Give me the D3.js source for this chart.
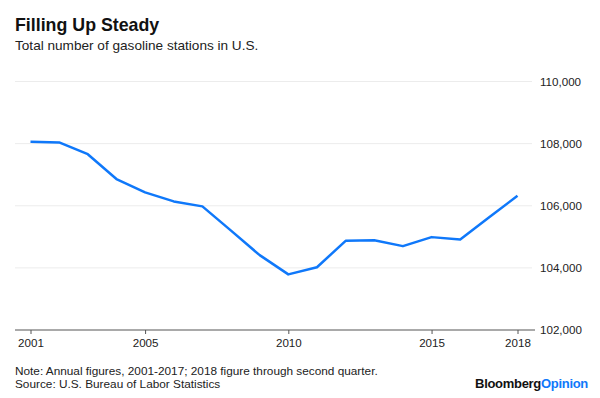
<!DOCTYPE html>
<html>
<head>
<meta charset="utf-8">
<script src="https://cdn.jsdelivr.net/npm/d3@7"></script>
<style>
  body { margin: 0; background: #fff; }
  svg { display: block; font-family: "Liberation Sans", Arial, sans-serif; }
</style>
</head>
<body>
<svg id="chart" width="600" height="398"></svg>
<script>
// data
const years = [2001, 2002, 2003, 2004, 2005, 2006, 2007, 2008, 2009, 2010, 2011, 2012, 2013, 2014, 2015, 2016, 2017, 2018];
const stations = [108060, 108040, 107660, 106860, 106430, 106140, 105980, 105200, 104410, 103790, 104020, 104870, 104890, 104700, 104990, 104910, 105620, 106320];
const xTicks = [2001, 2005, 2010, 2015, 2018];
const yTicks = [102000, 104000, 106000, 108000, 110000];

const svg = d3.select('#chart');

const x = d3.scaleLinear().domain([2001, 2018]).range([30.5, 517.5]);
const y = d3.scaleLinear().domain([102000, 110000]).range([330, 81.5]);

// title + subtitle
svg.append('text')
  .attr('x', 15).attr('y', 30.5)
  .attr('font-size', 17.8).attr('font-weight', 'bold').attr('fill', '#111')
  .text('Filling Up Steady');
svg.append('text')
  .attr('x', 15).attr('y', 49.5)
  .attr('font-size', 13.6).attr('fill', '#222')
  .text('Total number of gasoline stations in U.S.');

// gridlines
svg.append('g')
  .selectAll('line')
  .data(yTicks.slice(1))
  .join('line')
  .attr('x1', 15).attr('x2', 532)
  .attr('y1', (d) => y(d)).attr('y2', (d) => y(d))
  .attr('stroke', '#ececec').attr('stroke-width', 1);

// y labels on the right
svg.append('g')
  .selectAll('text')
  .data(yTicks)
  .join('text')
  .attr('x', 540)
  .attr('y', (d) => y(d) + 4)
  .attr('font-size', 11.6).attr('fill', '#222')
  .text((d) => d3.format(',')(d));

// x axis
const xAxis = d3.axisBottom(x)
  .tickValues(xTicks)
  .tickFormat(d3.format('d'))
  .tickSize(4)
  .tickSizeOuter(0);
const xg = svg.append('g').attr('transform', 'translate(0,330)').call(xAxis);
xg.select('.domain').remove();
xg.append('line')
  .attr('x1', 15).attr('x2', 535)
  .attr('stroke', '#555').attr('stroke-width', 1);
xg.selectAll('.tick line').attr('stroke', '#555');
xg.selectAll('.tick text')
  .attr('font-size', 11.6).attr('fill', '#222')
  .attr('font-family', '"Liberation Sans", Arial, sans-serif')
  .attr('dy', '0.71em').attr('y', 9);

// the line
const line = d3.line()
  .x((d, i) => x(years[i]))
  .y((d) => y(d));
svg.append('path')
  .datum(stations)
  .attr('d', line)
  .attr('fill', 'none')
  .attr('stroke', '#0f78fa')
  .attr('stroke-width', 2.5)
  .attr('stroke-linejoin', 'round');

// footer
svg.append('text')
  .attr('x', 15).attr('y', 374.5)
  .attr('font-size', 11.8).attr('fill', '#222')
  .text('Note: Annual figures, 2001-2017; 2018 figure through second quarter.');
svg.append('text')
  .attr('x', 15).attr('y', 388)
  .attr('font-size', 11.8).attr('fill', '#222')
  .text('Source: U.S. Bureau of Labor Statistics');

const brand = svg.append('text')
  .attr('x', 588).attr('y', 388)
  .attr('text-anchor', 'end')
  .attr('font-size', 13).attr('font-weight', 'bold')
  .attr('letter-spacing', -0.3);
brand.append('tspan').attr('fill', '#111').text('Bloomberg');
brand.append('tspan').attr('fill', '#0f78fa').text('Opinion');
</script>
</body>
</html>
